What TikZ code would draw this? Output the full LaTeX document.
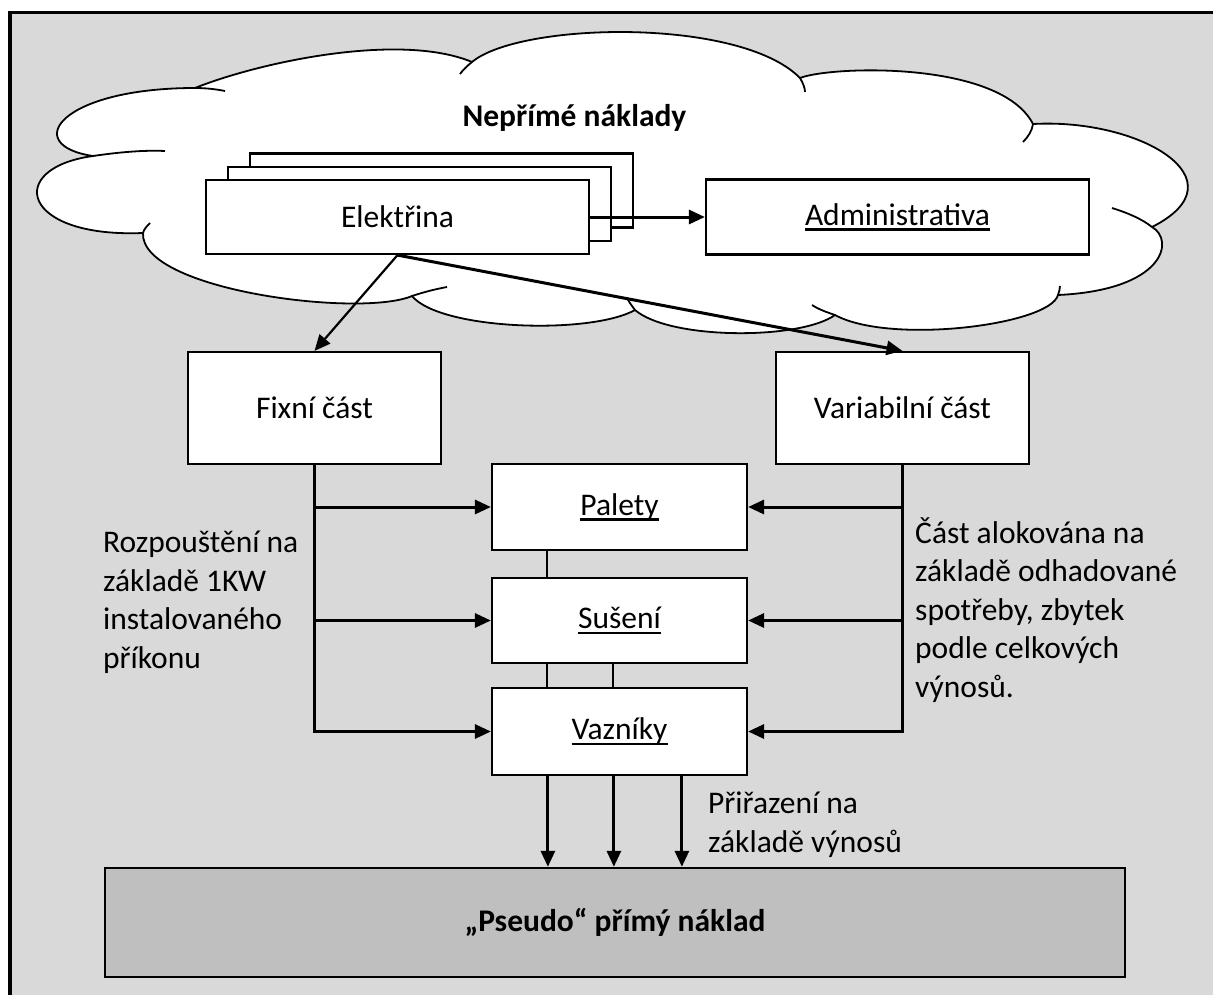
\documentclass[tikz,border=0pt]{standalone}
\usepackage{fontspec}
\setmainfont{Carlito}
\usetikzlibrary{arrows.meta}
\definecolor{panel}{RGB}{217,217,217}
\definecolor{basebox}{RGB}{191,191,191}
% underline drawn at a fixed depth, through descenders
\newcommand\ulword[1]{\setbox0\hbox{#1}\rlap{\rule[-5.5pt]{\wd0}{2.2pt}}\box0}
\begin{document}
\begin{tikzpicture}[x=1pt,y=-1pt,
  txt/.style={font=\fontsize{31.5}{38.5}\selectfont, inner sep=0pt},
  box/.style={txt, draw, line width=2.2pt, fill=white},
  arr/.style={line width=3pt, -{Triangle[length=16pt,width=14pt]}},
  link/.style={line width=2.4pt},
  cloudline/.style={line width=1.8pt, line join=round}]
\useasboundingbox (0,0) rectangle (1213,994);
\clip (0,0) rectangle (1213,994);

% page frame
\fill[white] (0,0) rectangle (1213,994);
\fill[panel] (10,12.5) rectangle (1240,1010);
\draw[line width=3.5pt] (10,1010) -- (10,12.5) -- (1240,12.5);

% cloud outline
\path[cloudline, draw, fill=white]
  (93,156) .. controls (20,145) and (60,88) .. (195,88)
  .. controls (260,62) and (400,32) .. (472,62)
  .. controls (520,22) and (740,17) .. (800,78)
  .. controls (830,66) and (1000,60) .. (1033,124)
  .. controls (1140,118) and (1245,180) .. (1152,227)
  .. controls (1175,240) and (1165,290) .. (1058,295)
  .. controls (1050,325) and (890,345) .. (835,315)
  .. controls (800,340) and (670,340) .. (635,310)
  .. controls (590,335) and (440,330) .. (412,296)
  .. controls (360,318) and (140,290) .. (143,233)
  .. controls (20,238) and (5,168) .. (93,156) -- cycle;
% inner curls of the cloud
\draw[cloudline] (93,156) .. controls (120,152) and (145,150) .. (165,151);
\draw[cloudline] (143,233) .. controls (144,229) and (147,226) .. (150,223);
\draw[cloudline] (195,88) .. controls (205,88) and (215,89) .. (225,91);
\draw[cloudline] (460,74) .. controls (463,70) and (467,66) .. (472,62);
\draw[cloudline] (800,78) .. controls (803,83) and (805,88) .. (805,92);
\draw[cloudline] (1033,124) .. controls (1032,131) and (1028,137) .. (1023,142);
\draw[cloudline] (1112,208) .. controls (1128,213) and (1142,219) .. (1152,227);
\draw[cloudline] (1060,286) .. controls (1060,289) and (1059,292) .. (1058,295);
\draw[cloudline] (835,315) .. controls (826,312) and (818,309) .. (812,305);
\draw[cloudline] (635,310) .. controls (632,306) and (629,302) .. (627,298);
\draw[cloudline] (412,296) .. controls (424,292) and (436,289) .. (447,287);

\node[txt, font=\fontsize{31.5}{38.5}\selectfont\bfseries] (title) at (574.5,118) {Nepřímé náklady};

% stacked electricity cards
\node[box, minimum width=383pt, minimum height=74pt] (e3) at (441.5,190.5) {};
\node[box, minimum width=383pt, minimum height=74pt] (e2) at (419.5,204) {};
\node[box, minimum width=383pt, minimum height=74pt] (elek) at (397.5,217) {Elektřina};
\node[box, minimum width=383pt, minimum height=75pt] (admin) at (897.5,217) {\ulword{Administrativa}};

% split into fixed and variable parts
\node[box, minimum width=253pt, minimum height=112pt] (fix) at (314.5,408) {Fixní část};
\node[box, minimum width=253pt, minimum height=112pt] (var) at (902.5,408) {Variabilní část};

% cost centres
\node[box, minimum width=255pt, minimum height=86pt] (pal) at (619.5,507) {\ulword{Palety}};
\node[box, minimum width=255pt, minimum height=85pt] (sus) at (619.5,620.5) {\ulword{Sušení}};
\node[box, minimum width=255pt, minimum height=87pt] (vaz) at (619.5,731.5) {\ulword{Vazníky}};

% resulting cost object
\node[txt, draw, line width=2.4pt, fill=basebox, minimum width=1020pt, minimum height=109pt,
      font=\fontsize{31.5}{38.5}\selectfont\bfseries] (pseudo) at (615,922.5) {„Pseudo“ přímý náklad};

% side notes (base anchor sits on the last line)
\node[txt, anchor=base west, align=left] (fixnote) at (103,668)
  {Rozpouštění na\\základě 1KW\\instalovaného\\příkonu};
\node[txt, anchor=base west, align=left] (varnote) at (915,697)
  {Část alokována na\\základě odhadované\\spotřeby, zbytek\\podle celkových\\výnosů.};
\node[txt, anchor=base west, align=left] (revnote) at (708,852)
  {Přiřazení na\\základě výnosů};

% connectors
\draw[arr] (elek.east) -- (admin.west);
\draw[arr, line width=2.2pt] (elek.south) -- (fix.north);
\draw[arr] (elek.south) -- (var.north);

\draw[arr] (fix.south) |- (vaz.west);
\draw[arr] (fix.south |- pal.west) -- (pal.west);
\draw[arr] (fix.south |- sus.west) -- (sus.west);

\draw[arr] (var.south) |- (vaz.east);
\draw[arr] (var.south |- pal.east) -- (pal.east);
\draw[arr] (var.south |- sus.east) -- (sus.east);

\draw[link] ([xshift=56pt]pal.south west) -- ([xshift=56pt]sus.north west);
\draw[link] ([xshift=56pt]sus.south west) -- ([xshift=56pt]vaz.north west);
\draw[link] ([xshift=122pt]sus.south west) -- ([xshift=122pt]vaz.north west);

\draw[arr] ([xshift=57pt]vaz.south west) -- ([xshift=57pt]vaz.south west |- pseudo.north);
\draw[arr] ([xshift=123pt]vaz.south west) -- ([xshift=123pt]vaz.south west |- pseudo.north);
\draw[arr] ([xshift=191pt]vaz.south west) -- ([xshift=191pt]vaz.south west |- pseudo.north);
\end{tikzpicture}
\end{document}
